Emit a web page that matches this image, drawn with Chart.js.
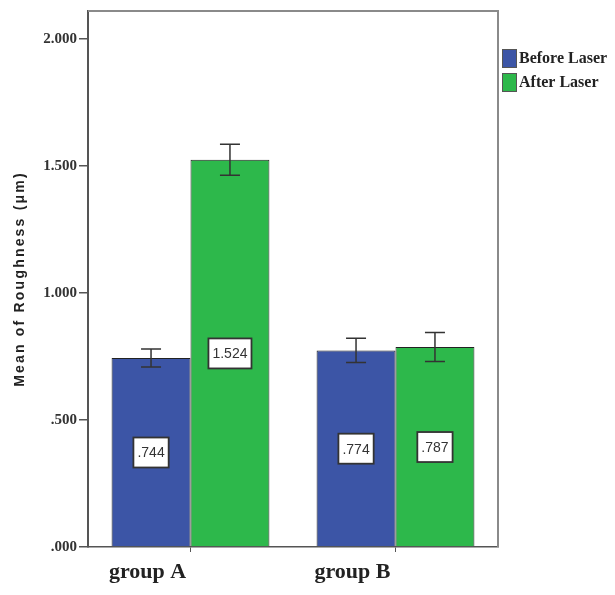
<!DOCTYPE html>
<html>
<head>
<meta charset="utf-8">
<script src="https://cdn.jsdelivr.net/npm/chart.js@4.4.1/dist/chart.umd.min.js"></script>
<style>
html,body{margin:0;padding:0;background:#fff;}
#wrap{width:615px;height:595px;position:relative;}
</style>
</head>
<body>
<div id="wrap"><canvas id="c" width="615" height="595"></canvas></div>
<script>
// ---- data ----
const categories = ['group A', 'group B'];
const seriesNames = ['Before Laser', 'After Laser'];
const beforeLaser = [0.744, 0.774];
const afterLaser = [1.524, 0.787];
const beforeErr = [0.035, 0.048];
const afterErr = [0.061, 0.057];
const valueLabels = [['.744', '.774'], ['1.524', '.787']];
const yTickValues = [0, 0.5, 1.0, 1.5, 2.0];
const yTickLabels = ['.000', '.500', '1.000', '1.500', '2.000'];
const yTitle = 'Mean of Roughness (μm)';
const yMax = 2.11;

const colors = ['#3C55A6', '#2DB84B'];
const errors = [beforeErr, afterErr];

const errorBarPlugin = {
  id: 'errorBars',
  afterDatasetsDraw(chart) {
    const ctx = chart.ctx;
    const ys = chart.scales.y;
    ctx.save();
    ctx.strokeStyle = '#333';
    ctx.lineWidth = 1.5;
    chart.data.datasets.forEach((ds, di) => {
      const meta = chart.getDatasetMeta(di);
      meta.data.forEach((bar, i) => {
        const v = ds.data[i], e = errors[di][i];
        const yt = ys.getPixelForValue(v + e), yb = ys.getPixelForValue(v - e);
        const x = bar.x, cw = 10;
        ctx.beginPath();
        ctx.moveTo(x, yt); ctx.lineTo(x, yb);
        ctx.moveTo(x - cw, yt); ctx.lineTo(x + cw, yt);
        ctx.moveTo(x - cw, yb); ctx.lineTo(x + cw, yb);
        ctx.stroke();
      });
    });
    ctx.restore();
  }
};

const valueLabelPlugin = {
  id: 'valueLabels',
  afterDatasetsDraw(chart) {
    const ctx = chart.ctx;
    const ys = chart.scales.y;
    ctx.save();
    ctx.font = '14px "Liberation Sans", Arial, sans-serif';
    ctx.textAlign = 'center';
    ctx.textBaseline = 'middle';
    chart.data.datasets.forEach((ds, di) => {
      const meta = chart.getDatasetMeta(di);
      meta.data.forEach((bar, i) => {
        const txt = valueLabels[di][i];
        const y = ys.getPixelForValue(ds.data[i] / 2);
        const w = ctx.measureText(txt).width + 8, h = 30;
        ctx.fillStyle = '#fff';
        ctx.strokeStyle = '#333';
        ctx.lineWidth = 1.8;
        ctx.fillRect(bar.x - w / 2, y - h / 2, w, h);
        ctx.strokeRect(bar.x - w / 2, y - h / 2, w, h);
        ctx.fillStyle = '#333';
        ctx.fillText(txt, bar.x, y + 1);
      });
    });
    ctx.restore();
  }
};

const framePlugin = {
  id: 'frame',
  afterDraw(chart) {
    const {left, right, top, bottom} = chart.chartArea;
    const ctx = chart.ctx;
    ctx.save();
    ctx.strokeStyle = '#8a8a8a';
    ctx.lineWidth = 2;
    ctx.beginPath();
    ctx.moveTo(left, top); ctx.lineTo(right, top); ctx.lineTo(right, bottom);
    ctx.stroke();
    ctx.restore();
  }
};

const yTitlePlugin = {
  id: 'yTitle',
  afterDraw(chart) {
    const {top, bottom} = chart.chartArea;
    const ctx = chart.ctx;
    ctx.save();
    ctx.translate(20, (top + bottom) / 2);
    ctx.rotate(-Math.PI / 2);
    ctx.font = 'bold 14px "Liberation Sans", Arial, sans-serif';
    if ('letterSpacing' in ctx) ctx.letterSpacing = '2.2px';
    ctx.fillStyle = '#222';
    ctx.textAlign = 'center';
    ctx.textBaseline = 'middle';
    ctx.fillText(yTitle, 0, 0);
    ctx.restore();
  }
};

const legendPlugin = {
  id: 'customLegend',
  afterDraw(chart) {
    const ctx = chart.ctx;
    const x0 = chart.chartArea.right + 4;
    let y0 = 49;
    ctx.save();
    ctx.font = 'bold 16px "Liberation Serif", "Times New Roman", serif';
    ctx.textBaseline = 'middle';
    ctx.textAlign = 'left';
    chart.data.datasets.forEach((ds, di) => {
      ctx.fillStyle = ds.backgroundColor;
      ctx.fillRect(x0, y0, 15, 19);
      ctx.strokeStyle = '#555';
      ctx.lineWidth = 1;
      ctx.strokeRect(x0 + 0.5, y0 + 0.5, 14, 18);
      ctx.fillStyle = '#222';
      ctx.fillText(ds.label, x0 + 17, y0 + 10);
      y0 += 24;
    });
    ctx.restore();
  }
};

new Chart(document.getElementById('c'), {
  type: 'bar',
  data: {
    labels: categories,
    datasets: [
      { label: seriesNames[0], data: beforeLaser, backgroundColor: colors[0], borderColor: '#222', borderWidth: 1 },
      { label: seriesNames[1], data: afterLaser, backgroundColor: colors[1], borderColor: '#222', borderWidth: 1 }
    ]
  },
  options: {
    responsive: false,
    animation: false,
    devicePixelRatio: 1,
    layout: { padding: { top: 11, right: 117, left: 0, bottom: 0 } },
    datasets: { bar: { categoryPercentage: 0.77, barPercentage: 1.0 } },
    plugins: { legend: { display: false }, tooltip: { enabled: false } },
    scales: {
      x: {
        grid: { display: true, drawOnChartArea: false, offset: false, tickLength: 5, color: '#555', lineWidth: 1 },
        border: { color: '#555', width: 1.5 },
        ticks: {
          color: '#222',
          font: { family: '"Liberation Serif", "Times New Roman", serif', size: 22, weight: 'bold' },
          labelOffset: -43,
          padding: 7
        },
        afterFit(scale) { scale.height = 48; }
      },
      y: {
        min: 0,
        max: yMax,
        grid: { display: true, drawOnChartArea: false, tickLength: 9, color: '#555', lineWidth: 1.5 },
        border: { color: '#555', width: 2 },
        afterBuildTicks(scale) { scale.ticks = yTickValues.map(v => ({ value: v })); },
        ticks: {
          color: '#333',
          font: { family: '"Liberation Serif", "Times New Roman", serif', size: 15, weight: 'bold' },
          padding: 2,
          callback(value) { const k = yTickValues.indexOf(value); return k >= 0 ? yTickLabels[k] : ''; }
        },
        afterFit(scale) { scale.width = 88; }
      }
    }
  },
  plugins: [errorBarPlugin, valueLabelPlugin, framePlugin, yTitlePlugin, legendPlugin]
});
</script>
</body>
</html>
